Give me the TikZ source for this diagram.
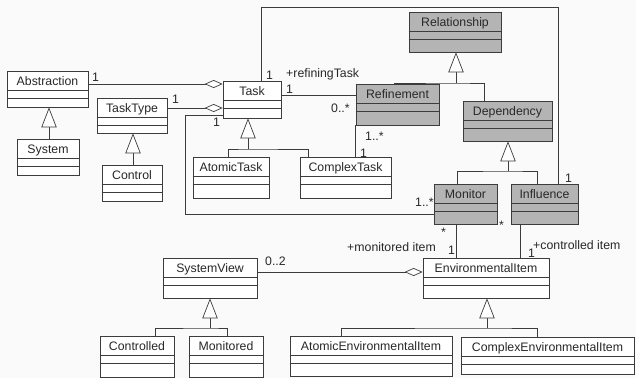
\documentclass[tikz,border=0pt]{standalone}
\usepackage{fontspec}
\setmainfont{Liberation Sans}
\usetikzlibrary{positioning, arrows.meta, calc, fit}

\definecolor{umlline}{RGB}{60,60,60}
\definecolor{umlgray}{RGB}{180,180,180}
\definecolor{umlback}{RGB}{250,250,250}
\definecolor{umltext}{RGB}{40,40,40}

% class box: name, style, x1, y1, x2, y2, title
\newcommand{\umlclass}[7]{%
  \node[classbox, #2, fit={(#3,#4) (#5,#6)}] (#1) {};
  \node[classname] (#1-title) at ($(#1.north)+(0,15)$) {#7};
  \draw[classline] ($(#1.north west)+(0,20)$) -- ($(#1.north east)+(0,20)$);
  \draw[classline] ($(#1.north west)+(0,28)$) -- ($(#1.north east)+(0,28)$);
}

\begin{document}
\begin{tikzpicture}[
  x=0.3mm, y=-0.3mm,
  every node/.style={font=\fontsize{10.5}{12}\selectfont, text=umltext},
  classbox/.style={draw=umlline, fill=white, inner sep=0pt, line width=0.6pt},
  shaded/.style={fill=umlgray},
  plain/.style={},
  classname/.style={inner sep=0pt, anchor=base},
  classline/.style={draw=umlline, line width=0.6pt},
  assoc/.style={draw=umlline, line width=0.6pt},
  aggr/.style={assoc, -{Diamond[open, fill=white, length=5.4mm, width=2.4mm]}},
  gen/.style={assoc, -{Triangle[open, fill=white, length=6mm, width=4.6mm]}},
  mult/.style={inner sep=0pt, anchor=base west}
]
\fill[umlback] (0,0) rectangle (636,378);
\useasboundingbox (0,0) rectangle (636,378);

% classes
\umlclass{Abstraction}{plain}{7}{71}{88}{107}{Abstraction}
\umlclass{System}{plain}{17}{139}{79}{175}{System}
\umlclass{TaskType}{plain}{97}{98}{167}{133}{TaskType}
\umlclass{Control}{plain}{102}{165}{162}{201}{Control}
\umlclass{Task}{plain}{223}{81}{281}{118}{Task}
\umlclass{AtomicTask}{plain}{193}{157}{269}{198}{AtomicTask}
\umlclass{ComplexTask}{plain}{300}{157}{391}{198}{ComplexTask}
\umlclass{Relationship}{shaded}{409}{12}{501}{52}{Relationship}
\umlclass{Refinement}{shaded}{356}{84}{439}{125}{Refinement}
\umlclass{Dependency}{shaded}{463}{101}{552}{141}{Dependency}
\umlclass{Monitor}{shaded}{434}{184}{497}{224}{Monitor}
\umlclass{Influence}{shaded}{511}{184}{578}{224}{Influence}
\umlclass{EnvItem}{plain}{423}{258}{549}{298}{EnvironmentalItem}
\umlclass{SystemView}{plain}{163}{258}{257}{298}{SystemView}
\umlclass{Controlled}{plain}{100}{336}{174}{377}{Controlled}
\umlclass{Monitored}{plain}{189}{336}{263}{377}{Monitored}
\umlclass{AtomicEnv}{plain}{290}{336}{452}{376}{AtomicEnvironmentalItem}
\umlclass{ComplexEnv}{plain}{461}{337}{634}{374}{ComplexEnvironmentalItem}

% junction points
\coordinate (relJoin) at (456,83);
\coordinate (depJoin) at (508,171);
\coordinate (taskJoin) at (248,149);
\coordinate (viewJoin) at (210,328);
\coordinate (envJoin) at (487,328);
\coordinate (loopLeft) at (185,214);
\coordinate (loopTop) at (558,7);

% associations
\draw[aggr] (Abstraction.east |- 0,84) -- (Task.west |- 0,84);
\draw[aggr] (TaskType.east |- 0,108) -- (Task.west |- 0,108);
\draw[assoc] (Task.west |- 0,115) -| (loopLeft) -- (Monitor.west |- loopLeft);
\draw[assoc] (Task.north -| 261,0) |- (loopTop) -- (Influence.north -| loopTop);
\draw[assoc] (Task.east |- 0,95) -- (Refinement.west |- 0,95);
\draw[assoc] (Refinement.south west) -- (ComplexTask.north -| Refinement.south west);
\draw[assoc] (Monitor.south -| 456,0) -- (EnvItem.north -| 456,0);
\draw[assoc] (Influence.south -| 520,0) -- (EnvItem.north -| 520,0);
\draw[aggr] (SystemView.east |- 0,272) -- (EnvItem.west |- 0,272);

% generalizations
\draw[assoc] (Refinement.north -| 394,0) |- (relJoin) -| (Dependency.north -| 484,0);
\draw[gen] (relJoin) -- (Relationship.south -| relJoin);
\draw[assoc] (Monitor.north -| 457,0) |- (depJoin) -| (Influence.north -| 537,0);
\draw[gen] (depJoin) -- (Dependency.south -| depJoin);
\draw[assoc] (AtomicTask.north -| 228,0) |- (taskJoin) -| (ComplexTask.north -| 308,0);
\draw[gen] (taskJoin) -- (Task.south -| taskJoin);
\draw[gen] (System.north -| 49,0) -- (Abstraction.south -| 49,0);
\draw[gen] (Control.north -| 133,0) -- (TaskType.south -| 133,0);
\draw[assoc] (Controlled.north -| 155,0) |- (viewJoin) -| (Monitored.north -| 227,0);
\draw[gen] (viewJoin) -- (SystemView.south -| viewJoin);
\draw[assoc] (AtomicEnv.north -| 341,0) |- (envJoin) -| (ComplexEnv.north -| 537,0);
\draw[gen] (envJoin) -- (EnvItem.south -| envJoin);

% multiplicities and roles
\node[mult] (mAbs) at (92,81) {1};
\node[mult] (mType) at (172,103) {1};
\node[mult] (mLoop) at (213,126) {1};
\node[mult] (mTop) at (266,79) {1};
\node[mult] (rRefining) at (286,77) {+refiningTask};
\node[mult] (mRefining) at (286,93) {1};
\node[mult] (mRefMany) at (331,112) {0..*};
\node[mult] (mRefSub) at (365,140) {1..*};
\node[mult] (mComplex) at (360,157) {1};
\node[mult] (mInfTop) at (565,182) {1};
\node[mult] (mMonLoop) at (415,206) {1..*};
\node[mult] (mMonStar) at (441,236) {*};
\node[mult] (mInfStar) at (499,229) {*};
\node[mult] (rMonitored) at (347,251) {+monitored item};
\node[mult] (mMonitored) at (448,254) {1};
\node[mult] (mControlled) at (528,257) {1};
\node[mult] (rControlled) at (533,249) {+controlled item};
\node[mult] (mView) at (265,265) {0..2};
\end{tikzpicture}
\end{document}
